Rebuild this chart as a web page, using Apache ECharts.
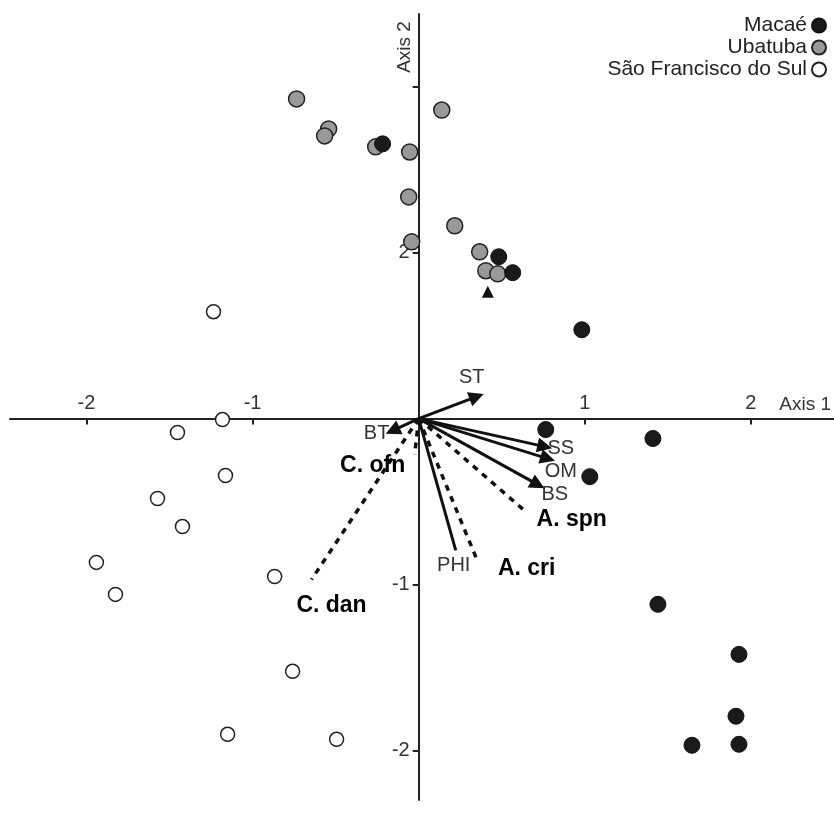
<!DOCTYPE html>
<html>
<head>
<meta charset="utf-8">
<script src="https://cdn.jsdelivr.net/npm/echarts@6/dist/echarts.min.js"></script>
<style>
    html, body { margin: 0; padding: 0; background: #fff; }
    #chart { width: 834px; height: 818px; }
</style>
</head>
<body>
<div id="chart"></div>
<script>
// site scores
const macae = [[-0.217, 1.657], [0.482, 0.976], [0.566, 0.88], [0.982, 0.536], [0.765, -0.066], [1.41, -0.12],
    [1.03, -0.35], [1.44, -1.12], [1.928, -1.422], [1.91, -1.795], [1.645, -1.97], [1.928, -1.964]];
const ubatuba = [[-0.735, 1.928], [-0.542, 1.747], [-0.566, 1.705], [-0.259, 1.639], [-0.054, 1.608], [0.139, 1.861],
    [-0.06, 1.337], [0.217, 1.163], [-0.042, 1.066], [0.367, 1.006], [0.404, 0.892], [0.476, 0.873]];
const saoFrancisco = [[-1.235, 0.645], [-1.181, -0.006], [-1.452, -0.084], [-1.163, -0.343], [-1.572, -0.482],
    [-1.422, -0.651], [-1.94, -0.867], [-1.825, -1.06], [-0.867, -0.952], [-0.759, -1.524], [-1.15, -1.904], [-0.494, -1.934]];
const centroid = [[0.416, 0.765]];

// environmental vectors (arrows) and species vectors (dashed)
const envNames = ['ST', 'BT', 'SS', 'OM', 'BS'];
const envVectors = [[0.349, 0.133], [-0.157, -0.072], [0.759, -0.169], [0.777, -0.241], [0.717, -0.398]];
const phiName = 'PHI';
const phiVector = [0.223, -0.795];
const speciesNames = ['C. ofn', 'C. dan', 'A. cri', 'A. spn'];
const speciesVectors = [[-0.024, -0.217], [-0.645, -0.97], [0.355, -0.861], [0.65, -0.566]];

const xTicks = [-2, -1, 1, 2];
const yTicks = [-2, -1, 1, 2];
const yTickLabels = ['-2', '-1', '2', ''];

// label offsets in px from the vector tip
const labelOffset = {
    'ST': [-5, -19], 'BT': [-16, 3], 'SS': [16, 2], 'OM': [13, 13], 'BS': [17, 10], 'PHI': [-2, 15],
    'C. ofn': [-42, 11], 'C. dan': [20, 26], 'A. cri': [49, 7], 'A. spn': [45, 7]
};

const font = 'Liberation Sans, Arial, sans-serif';

// plot box and ranges; axes are shifted so they cross at (0, 0)
const grid = { left: 10, right: 0, top: 14, bottom: 18 };
const xRange = [-2.46, 2.5];
const yRange = [-2.3, 2.44];
const W = 834, H = 818;
const plotW = W - grid.left - grid.right;
const plotH = H - grid.top - grid.bottom;
const xAxisOffset = -(plotH * (0 - yRange[0]) / (yRange[1] - yRange[0]));
const yAxisOffset = -(plotW * (0 - xRange[0]) / (xRange[1] - xRange[0]));

const toLines = (vecs) => vecs.map(v => ({ coords: [[0, 0], v] }));
const toLabels = (names, vecs, size, weight, color) => names.map((n, i) => ({
    value: vecs[i],
    label: {
        show: true, formatter: n, position: 'inside', offset: labelOffset[n],
        fontSize: size, fontWeight: weight, color: color, opacity: 1,
        textBorderWidth: 0, fontFamily: font
    }
}));

var myChart = echarts.init(document.getElementById('chart'));
var option = {
    animation: false,
    grid: Object.assign({ outerBoundsMode: 'none', containLabel: false }, grid),
    legend: {
        data: ['Macaé', 'Ubatuba', 'São Francisco do Sul'],
        orient: 'vertical',
        align: 'right',
        right: 2,
        top: 10,
        itemGap: 1,
        itemWidth: 14,
        itemHeight: 14,
        textStyle: { fontSize: 21, color: '#222', fontFamily: font }
    },
    xAxis: {
        type: 'value', min: xRange[0], max: xRange[1],
        position: 'bottom', offset: xAxisOffset,
        axisLine: { onZero: false, lineStyle: { color: '#222', width: 2 } },
        axisTick: { customValues: xTicks, length: 6, lineStyle: { color: '#222', width: 2 } },
        axisLabel: { customValues: xTicks, inside: true, margin: 5, fontSize: 20, color: '#333', fontFamily: font },
        splitLine: { show: false }
    },
    yAxis: {
        type: 'value', min: yRange[0], max: yRange[1],
        position: 'left', offset: yAxisOffset,
        axisLine: { onZero: false, lineStyle: { color: '#222', width: 2 } },
        axisTick: { customValues: yTicks, length: 6, lineStyle: { color: '#222', width: 2 } },
        axisLabel: {
            customValues: yTicks, margin: 9, fontSize: 20, color: '#333', fontFamily: font,
            formatter: (v) => yTickLabels[yTicks.indexOf(v)]
        },
        splitLine: { show: false }
    },
    graphic: [
        { type: 'text', right: 3, top: 395, style: { text: 'Axis 1', fill: '#333', font: '19px ' + font } },
        {
            type: 'text', x: 405, y: 47, rotation: Math.PI / 2,
            style: { text: 'Axis 2', align: 'center', verticalAlign: 'middle', fill: '#333', font: '19px ' + font }
        }
    ],
    series: [
        {
            type: 'lines', coordinateSystem: 'cartesian2d', silent: true, z: 3,
            symbol: ['none', 'triangle'], symbolSize: 15,
            lineStyle: { color: '#111', width: 3, opacity: 1 },
            data: toLines(envVectors)
        },
        {
            type: 'lines', coordinateSystem: 'cartesian2d', silent: true, z: 3,
            symbol: ['none', 'none'],
            lineStyle: { color: '#111', width: 3, opacity: 1 },
            data: toLines([phiVector])
        },
        {
            type: 'lines', coordinateSystem: 'cartesian2d', silent: true, z: 3,
            symbol: ['none', 'none'],
            lineStyle: { color: '#111', width: 3.5, type: [6, 6], opacity: 1 },
            data: toLines(speciesVectors)
        },
        {
            type: 'scatter', silent: true, symbolSize: 1, z: 4,
            itemStyle: { color: '#fff', opacity: 0.01 },
            data: toLabels(envNames.concat([phiName]), envVectors.concat([phiVector]), 20, 'normal', '#333')
        },
        {
            type: 'scatter', silent: true, symbolSize: 1, z: 4,
            itemStyle: { color: '#fff', opacity: 0.01 },
            data: toLabels(speciesNames, speciesVectors, 23, 'bold', '#000')
        },
        {
            name: 'São Francisco do Sul', type: 'scatter', symbol: 'circle', symbolSize: 14, z: 5,
            itemStyle: { color: '#fff', borderColor: '#222', borderWidth: 1.5, opacity: 1 },
            data: saoFrancisco
        },
        {
            name: 'Ubatuba', type: 'scatter', symbol: 'circle', symbolSize: 16, z: 5,
            itemStyle: { color: '#999', borderColor: '#222', borderWidth: 1.5, opacity: 1 },
            data: ubatuba
        },
        {
            name: 'Macaé', type: 'scatter', symbol: 'circle', symbolSize: 16, z: 6,
            itemStyle: { color: '#1a1a1a', borderColor: '#111', borderWidth: 1, opacity: 1 },
            data: macae
        },
        {
            type: 'scatter', symbol: 'triangle', symbolSize: 12, z: 6,
            itemStyle: { color: '#111', opacity: 1 },
            data: centroid
        }
    ]
};
option && myChart.setOption(option);
</script>
</body>
</html>
